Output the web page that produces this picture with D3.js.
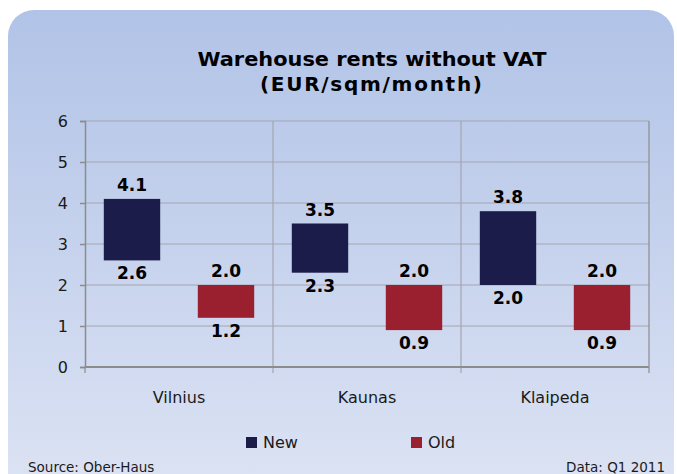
<!DOCTYPE html>
<html>
<head>
<meta charset="utf-8">
<script src="https://cdn.jsdelivr.net/npm/d3@7"></script>
<style>
  body { margin: 0; background: #fff; }
  text { font-family: "DejaVu Sans", Verdana, sans-serif; }
</style>
</head>
<body>
<svg id="chart" width="677" height="474"></svg>
<script>
// data
var cities = ["Vilnius", "Kaunas", "Klaipeda"]
var series = ["New", "Old"]
var newLow = [2.6, 2.3, 2.0]
var newHigh = [4.1, 3.5, 3.8]
var oldLow = [1.2, 0.9, 0.9]
var oldHigh = [2.0, 2.0, 2.0]
var yTicks = [0, 1, 2, 3, 4, 5, 6]

var colors = {New: "#1b1c4a", Old: "#9b202f"}

var svg = d3.select("#chart")

// background gradient panel
var defs = svg.append("defs")
var grad = defs.append("linearGradient")
    .attr("id", "bg")
    .attr("x1", 0).attr("y1", 0).attr("x2", 0).attr("y2", 1)
grad.append("stop").attr("offset", "0%").attr("stop-color", "#b1c3e7")
grad.append("stop").attr("offset", "100%").attr("stop-color", "#dee4f4")

svg.append("rect")
    .attr("x", 8).attr("y", 10)
    .attr("width", 666).attr("height", 500)
    .attr("rx", 26).attr("ry", 26)
    .attr("fill", "url(#bg)")

// title
svg.append("text")
    .attr("x", 372).attr("y", 66)
    .attr("text-anchor", "middle")
    .attr("font-size", "20px")
    .attr("font-weight", "bold")
    .attr("textLength", 349)
    .attr("lengthAdjust", "spacingAndGlyphs")
    .text("Warehouse rents without VAT")
svg.append("text")
    .attr("x", 371).attr("y", 91)
    .attr("text-anchor", "middle")
    .attr("font-size", "20px")
    .attr("font-weight", "bold")
    .attr("textLength", 222)
    .attr("lengthAdjust", "spacing")
    .text("(EUR/sqm/month)")

var plotLeft = 85, plotRight = 649, plotTop = 121, plotBottom = 367

var x = d3.scaleBand()
    .domain(cities)
    .range([plotLeft, plotRight])

var xInner = d3.scaleBand()
    .domain(series)
    .range([0, x.bandwidth()])
    .paddingInner(0.4)
    .paddingOuter(0.2)

var y = d3.scaleLinear()
    .domain([0, 6])
    .range([plotBottom, plotTop])

// grid lines
svg.append("g")
    .selectAll("line")
    .data(yTicks.slice(1))
    .enter()
    .append("line")
    .attr("x1", plotLeft).attr("x2", plotRight)
    .attr("y1", function(d) { return y(d); })
    .attr("y2", function(d) { return y(d); })
    .attr("stroke", "#a3a6ad")
    .attr("stroke-width", 1.2)

// vertical separators between categories
svg.append("g")
    .selectAll("line")
    .data(cities.slice(1).concat(["end"]))
    .enter()
    .append("line")
    .attr("x1", function(d, i) { return plotLeft + (i + 1) * x.bandwidth(); })
    .attr("x2", function(d, i) { return plotLeft + (i + 1) * x.bandwidth(); })
    .attr("y1", plotTop).attr("y2", plotBottom + 6)
    .attr("stroke", function(d) { return d == "end" ? "#8c8c8c" : "#a3a6ad"; })
    .attr("stroke-width", 1.2)

// y axis
var yAxis = svg.append("g")
    .attr("transform", "translate(" + plotLeft + ",0)")
    .call(d3.axisLeft(y).tickValues(yTicks).tickSize(5).tickPadding(12).tickFormat(d3.format("d")))
yAxis.select(".domain").attr("stroke", "#8c8c8c").attr("stroke-width", 1.5)
yAxis.selectAll(".tick line").attr("stroke", "#8c8c8c").attr("stroke-width", 1.5)
yAxis.selectAll(".tick text")
    .attr("font-size", "16px")
    .attr("font-family", "DejaVu Sans, Verdana, sans-serif")
    .attr("fill", "#1a1a1a")

// x axis line
svg.append("line")
    .attr("x1", plotLeft).attr("x2", plotRight)
    .attr("y1", plotBottom).attr("y2", plotBottom)
    .attr("stroke", "#8c8c8c").attr("stroke-width", 2)
svg.append("line")
    .attr("x1", plotLeft).attr("x2", plotLeft)
    .attr("y1", plotBottom).attr("y2", plotBottom + 6)
    .attr("stroke", "#8c8c8c").attr("stroke-width", 1.2)

// category labels
svg.append("g")
    .selectAll("text")
    .data(cities)
    .enter()
    .append("text")
    .attr("x", function(d) { return x(d) + x.bandwidth() / 2; })
    .attr("y", 403)
    .attr("text-anchor", "middle")
    .attr("font-size", "16px")
    .attr("fill", "#1a1a1a")
    .text(function(d) { return d; })

// floating bars
var rows = []
cities.forEach(function(c, i) {
  rows.push({city: c, s: "New", lo: newLow[i], hi: newHigh[i]})
  rows.push({city: c, s: "Old", lo: oldLow[i], hi: oldHigh[i]})
})

var bars = svg.append("g")
    .selectAll("g")
    .data(rows)
    .enter()
    .append("g")
    .attr("transform", function(d) { return "translate(" + (x(d.city) + xInner(d.s)) + ",0)"; })

bars.append("rect")
    .attr("y", function(d) { return y(d.hi); })
    .attr("height", function(d) { return y(d.lo) - y(d.hi); })
    .attr("width", xInner.bandwidth())
    .attr("fill", function(d) { return colors[d.s]; })

bars.append("text")
    .attr("x", xInner.bandwidth() / 2)
    .attr("y", function(d) { return y(d.hi) - 8; })
    .attr("text-anchor", "middle")
    .attr("font-size", "17px")
    .attr("font-weight", "bold")
    .text(function(d) { return d.hi.toFixed(1); })

bars.append("text")
    .attr("x", xInner.bandwidth() / 2)
    .attr("y", function(d) { return y(d.lo) + 19; })
    .attr("text-anchor", "middle")
    .attr("font-size", "17px")
    .attr("font-weight", "bold")
    .text(function(d) { return d.lo.toFixed(1); })

// legend
var legend = svg.selectAll(".legend")
    .data(series)
    .enter()
    .append("g")
    .attr("class", "legend")
    .attr("transform", function(d, i) { return "translate(" + (246 + i * 165) + ",437)"; })

legend.append("rect")
    .attr("width", 11).attr("height", 11)
    .attr("fill", function(d) { return colors[d]; })

legend.append("text")
    .attr("x", 17).attr("y", 11)
    .attr("font-size", "16px")
    .attr("fill", "#1a1a1a")
    .text(function(d) { return d; })

// footer
svg.append("text")
    .attr("x", 28).attr("y", 472)
    .attr("font-size", "13.5px")
    .attr("fill", "#1a1a1a")
    .text("Source: Ober-Haus")
svg.append("text")
    .attr("x", 665).attr("y", 472)
    .attr("text-anchor", "end")
    .attr("font-size", "13.5px")
    .attr("fill", "#1a1a1a")
    .text("Data: Q1 2011")
</script>
</body>
</html>
